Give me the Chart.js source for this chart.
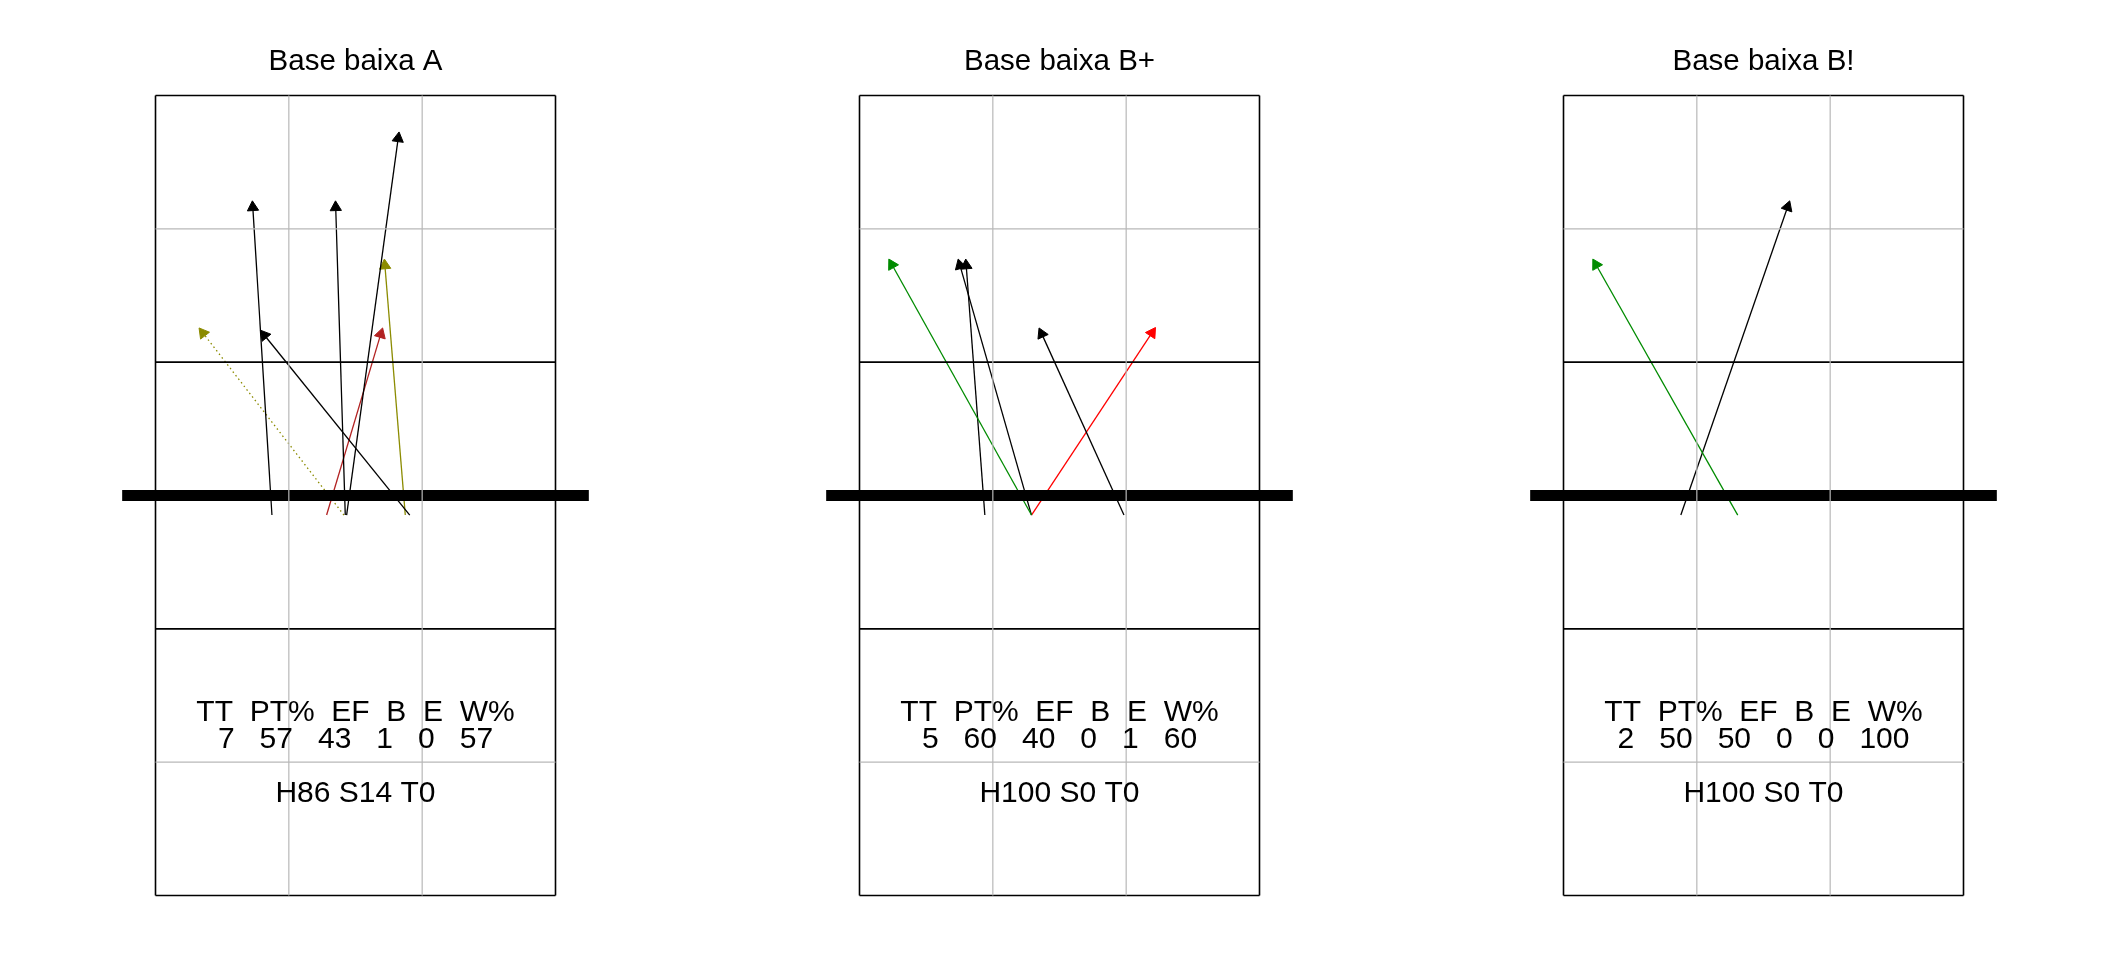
<!DOCTYPE html>
<html><head><meta charset="utf-8">
<script src="https://cdn.jsdelivr.net/npm/chart.js@4"></script>
<style>
html,body{margin:0;padding:0;background:#fff;}
#wrap{display:flex;width:2112px;height:960px;}
canvas{display:block;}
</style></head><body>
<div id="wrap">
<canvas id="c0" width="704" height="960"></canvas>
<canvas id="c1" width="704" height="960"></canvas>
<canvas id="c2" width="704" height="960"></canvas>
</div>
<script>
// ---- data (court metres: x 0..9 across, y 0..18 from the bottom end line) ----
const panelTitles = ['Base baixa A', 'Base baixa B+', 'Base baixa B!'];

const startXA = [2.62, 4.27, 4.30, 5.72, 3.85, 5.62, 4.24];
const startYA = [8.56, 8.56, 8.56, 8.56, 8.56, 8.56, 8.56];
const endXA   = [2.18, 4.05, 5.48, 2.36, 5.11, 5.15, 0.98];
const endYA   = [15.63, 15.63, 17.18, 12.72, 12.77, 14.32, 12.77];
const colorA  = ['#000000', '#000000', '#000000', '#000000', '#B22222', '#8B8B00', '#8B8B00'];
const dottedA = [false, false, false, false, false, false, true];

const startXB = [3.87, 2.82, 3.87, 5.95, 3.87];
const startYB = [8.56, 8.56, 8.56, 8.56, 8.56];
const endXB   = [0.66, 2.39, 2.22, 4.04, 6.66];
const endYB   = [14.32, 14.32, 14.32, 12.77, 12.78];
const colorB  = ['#008B00', '#000000', '#000000', '#000000', '#FF0000'];
const dottedB = [false, false, false, false, false];

const startXC = [3.92, 2.64];
const startYC = [8.56, 8.56];
const endXC   = [0.66, 5.09];
const endYC   = [14.32, 15.63];
const colorC  = ['#008B00', '#000000'];
const dottedC = [false, false];

const statHeader = 'TT  PT%  EF  B  E  W%';
const statTT = [7, 5, 2];
const statPT = [57, 60, 50];
const statEF = [43, 40, 50];
const statB  = [1, 0, 0];
const statE  = [0, 1, 0];
const statW  = [57, 60, 100];
const statH  = [86, 100, 100];
const statS  = [14, 0, 0];
const statT  = [0, 0, 0];

// court geometry
const grayX = [3, 6];
const grayY = [3, 15];
const blackX = [0, 9];
const blackY = [0, 6, 12, 18];
const netY = 9;
const netExt = [-0.75, 9.75];

const panels = [
  {sx: startXA, sy: startYA, ex: endXA, ey: endYA, col: colorA, dot: dottedA},
  {sx: startXB, sy: startYB, ex: endXB, ey: endYB, col: colorB, dot: dottedB},
  {sx: startXC, sy: startYC, ex: endXC, ey: endYC, col: colorC, dot: dottedC}
];

const HEAD_R = 6.5;          // px
const PX_PER_M = 400 / 9;    // court drawn 400px wide
const HEAD_BACK = HEAD_R / PX_PER_M;
const FONT = '"Liberation Sans", Arial, Helvetica, sans-serif';

function seg(x1, y1, x2, y2, color, width, order) {
  return {data: [{x: x1, y: y1}, {x: x2, y: y2}], showLine: true, borderColor: color,
          borderWidth: width, pointRadius: 0, order: order, clip: false, borderCapStyle: 'butt'};
}

const statsPlugin = {
  id: 'stats',
  afterDatasetsDraw(chart, args, opts) {
    const i = opts.panel;
    const {ctx} = chart;
    const xs = chart.scales.x, ys = chart.scales.y;
    const cx = xs.getPixelForValue(4.5);
    ctx.save();
    ctx.fillStyle = '#000';
    ctx.font = '30px ' + FONT;
    ctx.textAlign = 'center';
    ctx.textBaseline = 'alphabetic';
    ctx.fillText(statHeader, cx, ys.getPixelForValue(3.92));
    const nums = [statTT[i], statPT[i], statEF[i], statB[i], statE[i], statW[i]].join('   ');
    ctx.fillText(nums, cx, ys.getPixelForValue(3.31));
    ctx.fillText('H' + statH[i] + ' S' + statS[i] + ' T' + statT[i], cx, ys.getPixelForValue(2.11));
    ctx.restore();
  }
};

panels.forEach((p, i) => {
  const ds = [];
  grayX.forEach(g => ds.push(seg(g, 0, g, 18, '#b8b8b8', 1.2, 0)));
  grayY.forEach(g => ds.push(seg(0, g, 9, g, '#b8b8b8', 1.2, 0)));
  blackX.forEach(g => ds.push(seg(g, 0, g, 18, '#000000', 1.6, 0)));
  blackY.forEach(g => ds.push(seg(0, g, 9, g, '#000000', 1.6, 0)));
  ds.push(seg(netExt[0], netY, netExt[1], netY, '#000000', 11, 1));
  p.sx.forEach((sx, k) => {
    const sy = p.sy[k], ex = p.ex[k], ey = p.ey[k];
    const dx = ex - sx, dy = ey - sy, len = Math.hypot(dx, dy);
    const hx = ex - dx / len * HEAD_BACK, hy = ey - dy / len * HEAD_BACK;
    const rot = Math.atan2(dx, dy) * 180 / Math.PI;
    ds.push({
      data: [{x: sx, y: sy}, {x: hx, y: hy}], showLine: true,
      borderColor: p.col[k], borderWidth: 1.3, borderDash: p.dot[k] ? [1.5, 3] : [],
      pointStyle: 'triangle', pointRadius: [0, HEAD_R], pointRotation: [0, rot],
      pointBackgroundColor: p.col[k], pointBorderColor: p.col[k], pointBorderWidth: 1,
      order: 2, clip: false
    });
  });
  new Chart(document.getElementById('c' + i), {
    type: 'scatter',
    data: {datasets: ds},
    options: {
      responsive: false, animation: false, events: [],
      layout: {padding: {left: 122.17, right: 115.17, top: 0, bottom: 64.5}},
      scales: {
        x: {type: 'linear', display: false, min: netExt[0], max: netExt[1]},
        y: {type: 'linear', display: false, min: 0, max: 18}
      },
      plugins: {
        legend: {display: false},
        tooltip: {enabled: false},
        title: {display: true, text: panelTitles[i], color: '#000',
                font: {family: FONT, size: 29.5, weight: 'normal', lineHeight: 1.2},
                padding: {top: 44.3, bottom: 15.8}},
        stats: {panel: i}
      }
    },
    plugins: [statsPlugin]
  });
});
</script>
</body></html>
